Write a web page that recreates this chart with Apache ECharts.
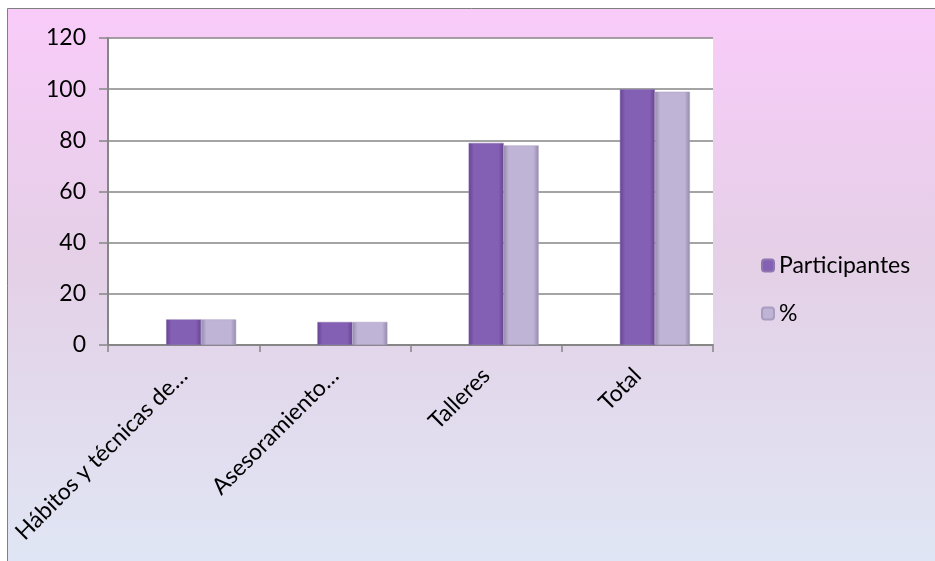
<!DOCTYPE html>
<html>
<head>
<meta charset="utf-8">
<script src="https://cdn.jsdelivr.net/npm/echarts@6/dist/echarts.min.js"></script>
<style>
html,body{margin:0;padding:0;background:#fff;}
#c{width:935px;height:561px;}
</style>
</head>
<body>
<div id="c"></div>
<script>
var categories = ['Hábitos y técnicas de…', 'Asesoramiento…', 'Talleres', 'Total'];
var participantes = [10, 9, 79, 100];
var porcentaje = [10, 9, 78, 99];
var yTicks = [0, 20, 40, 60, 80, 100, 120];
var spacer = [null, null, null, null];

var FONT = 'Lato, "Open Sans", sans-serif';
var chart = echarts.init(document.getElementById('c'));

function hGrad(edge, mid) {
  return new echarts.graphic.LinearGradient(0, 0, 1, 0, [
    {offset: 0, color: edge},
    {offset: 0.15, color: mid},
    {offset: 0.85, color: mid},
    {offset: 1, color: edge}
  ]);
}

chart.setOption({
  animation: false,
  graphic: [{
    type: 'rect', z: -10, silent: true,
    shape: {x: 7.5, y: 8.5, width: 940, height: 570},
    style: {
      fill: new echarts.graphic.LinearGradient(0, 0, 0, 1, [
        {offset: 0, color: '#f9cbf9'},
        {offset: 0.45, color: '#e4d0e7'},
        {offset: 1, color: '#dfe7f5'}
      ]),
      stroke: '#7f7f7f', lineWidth: 1
    }
  }],
  grid: {left: 108, right: 222, top: 38, bottom: 216, show: true, backgroundColor: '#ffffff', borderWidth: 0},
  legend: {
    orient: 'vertical', left: 756, top: 249, itemGap: 25,
    itemWidth: 12, itemHeight: 12,
    data: ['Participantes', '%'],
    textStyle: {fontFamily: FONT, fontSize: 23, color: '#000'}
  },
  xAxis: {
    type: 'category', data: categories,
    axisLine: {lineStyle: {color: '#868686', width: 2}},
    axisTick: {show: true, length: 7, lineStyle: {color: '#868686', width: 1.5}},
    axisLabel: {rotate: 45, margin: 27, fontFamily: FONT, fontSize: 23, color: '#000', interval: 0}
  },
  yAxis: {
    type: 'value', min: 0, max: 120, interval: 20,
    axisLine: {show: true, lineStyle: {color: '#868686', width: 2}},
    axisTick: {show: true, length: 9, lineStyle: {color: '#868686', width: 1.5}},
    splitLine: {lineStyle: {color: '#868686', width: 1.5}},
    axisLabel: {margin: 22, fontFamily: FONT, fontSize: 23, color: '#000',
      formatter: function (v) { return yTicks.indexOf(v) >= 0 ? String(v) : ''; }}
  },
  series: [
    {name: 'spacer', type: 'bar', data: spacer, barWidth: 35, barGap: '0%', itemStyle: {color: 'transparent'}, silent: true},
    {name: 'Participantes', type: 'bar', data: participantes, barWidth: 35, barGap: '0%',
      itemStyle: {color: hGrad('#664390', '#8360b4'), borderColor: '#8d75b0', borderWidth: 0.5}},
    {name: '%', type: 'bar', data: porcentaje, barWidth: 35, barGap: '0%',
      itemStyle: {color: hGrad('#948aab', '#c0b4d6'), borderColor: '#a89cbf', borderWidth: 0.5}}
  ]
});
</script>
</body>
</html>
